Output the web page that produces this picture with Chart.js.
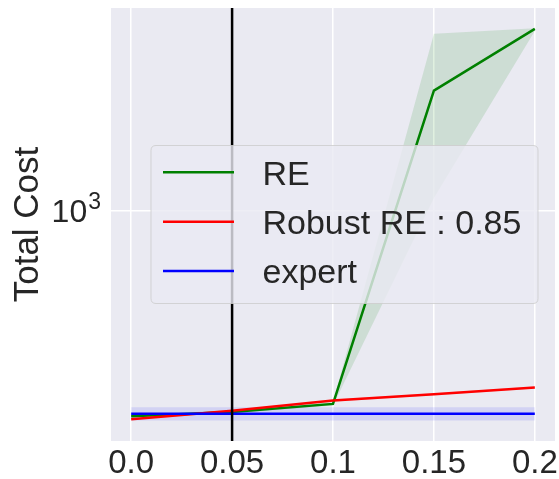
<!DOCTYPE html>
<html><head><meta charset="utf-8">
<script src="https://cdn.jsdelivr.net/npm/chart.js@4/dist/chart.umd.min.js"></script>
<style>html,body{margin:0;padding:0;background:#fff;}#wrap{width:559px;height:479px;position:relative;}</style>
</head><body><div id="wrap"><canvas id="c" width="559" height="479"></canvas></div>
<script>
const xs = [0, 0.05, 0.1, 0.15, 0.2];
const xTickLabels = ['0.0', '0.05', '0.1', '0.15', '0.2'];
const reMean = [228, 235, 249, 2371, 3698];
const reLow = [226, 233, 246, 1096, 3644];
const reHigh = [230, 238, 252, 3573, 3713];
const robustMean = [223, 237, 255, 267, 280];
const robustLow = [222, 236, 253, 265, 278];
const robustHigh = [224, 238, 257, 269, 282];
const expertMean = [232, 232, 232, 232, 232];
const expertLow = [221, 221, 221, 221, 221];
const expertHigh = [243, 243, 243, 243, 243];
const yTickValues = [1000];
const yTickBase = ['10'];
const yTickExp = ['3'];
const seriesNames = ['RE', 'Robust RE : 0.85', 'expert'];
const seriesColors = ['#008000', '#ff0000', '#0000ff'];
const bandColors = ['rgba(0,128,0,0.12)', 'rgba(255,0,0,0.12)', 'rgba(0,0,255,0.10)'];
const vlineX = 0.05;
const yMin = 190.7, yMax = 4298;
const xMin = -0.01, xMax = 0.21;

const FONT = "'Liberation Sans', Arial, sans-serif";
const pts = arr => xs.map((x, i) => ({x: x, y: arr[i]}));

function lineDs(label, arr, color, order) {
  return {label, data: pts(arr), borderColor: color, borderWidth: 2.5, pointRadius: 0, fill: false, order, tension: 0};
}
function bandPair(arrHigh, arrLow, color, order) {
  return [
    {label: '_hi', data: pts(arrHigh), borderWidth: 0, borderColor: 'rgba(0,0,0,0)', backgroundColor: color, pointRadius: 0, fill: '+1', order},
    {label: '_lo', data: pts(arrLow), borderWidth: 0, borderColor: 'rgba(0,0,0,0)', pointRadius: 0, fill: false, order}
  ];
}

const datasets = [
  {label: '_vline', data: [{x: vlineX, y: yMin}, {x: vlineX, y: yMax}], borderColor: '#000', borderWidth: 2.5, pointRadius: 0, fill: false, order: 0},
  ...bandPair(reHigh, reLow, bandColors[0], 9),
  ...bandPair(robustHigh, robustLow, bandColors[1], 8),
  ...bandPair(expertHigh, expertLow, bandColors[2], 7),
  lineDs(seriesNames[2], expertMean, seriesColors[2], 1),
  lineDs(seriesNames[1], robustMean, seriesColors[1], 2),
  lineDs(seriesNames[0], reMean, seriesColors[0], 3)
];

const bgPlugin = {
  id: 'bg',
  beforeDraw(chart) {
    const a = chart.chartArea, ctx = chart.ctx;
    ctx.save(); ctx.fillStyle = '#EAEAF2';
    ctx.fillRect(a.left, a.top, a.right - a.left, a.bottom - a.top);
    ctx.restore();
  }
};

const yTickPlugin = {
  id: 'yTickLabels',
  afterDraw(chart) {
    const ctx = chart.ctx, ys = chart.scales.y;
    ctx.save();
    ctx.fillStyle = '#262626';
    ctx.textAlign = 'left';
    ctx.textBaseline = 'alphabetic';
    yTickValues.forEach((v, i) => {
      const py = ys.getPixelForValue(v);
      ctx.font = '32px ' + FONT;
      const wb = ctx.measureText(yTickBase[i]).width;
      ctx.font = '23px ' + FONT;
      const we = ctx.measureText(yTickExp[i]).width;
      const right = chart.chartArea.left - 10;
      const x0 = right - wb - we - 1;
      ctx.font = '32px ' + FONT;
      ctx.fillText(yTickBase[i], x0, py + 11.5);
      ctx.font = '23px ' + FONT;
      ctx.fillText(yTickExp[i], x0 + wb + 1, py - 2);
    });
    ctx.restore();
  }
};

const legendPlugin = {
  id: 'customLegend',
  afterDraw(chart) {
    const ctx = chart.ctx;
    const bx = 151, by = 145.5, bw = 387, bh = 158, r = 5;
    ctx.save();
    ctx.beginPath();
    ctx.moveTo(bx + r, by); ctx.lineTo(bx + bw - r, by); ctx.quadraticCurveTo(bx + bw, by, bx + bw, by + r);
    ctx.lineTo(bx + bw, by + bh - r); ctx.quadraticCurveTo(bx + bw, by + bh, bx + bw - r, by + bh);
    ctx.lineTo(bx + r, by + bh); ctx.quadraticCurveTo(bx, by + bh, bx, by + bh - r);
    ctx.lineTo(bx, by + r); ctx.quadraticCurveTo(bx, by, bx + r, by);
    ctx.closePath();
    ctx.fillStyle = 'rgba(234,234,242,0.8)';
    ctx.fill();
    ctx.strokeStyle = 'rgba(204,204,204,0.8)';
    ctx.lineWidth = 1;
    ctx.stroke();
    ctx.font = '34px ' + FONT;
    ctx.textBaseline = 'alphabetic';
    ctx.textAlign = 'left';
    for (let i = 0; i < seriesNames.length; i++) {
      const yc = 172.3 + i * 49.4;
      ctx.beginPath();
      ctx.strokeStyle = seriesColors[i]; ctx.lineWidth = 2.5;
      ctx.moveTo(163, yc); ctx.lineTo(234, yc); ctx.stroke();
      ctx.fillStyle = '#262626';
      ctx.fillText(seriesNames[i], 262.5, yc + 12.3);
    }
    ctx.restore();
  }
};

new Chart(document.getElementById('c'), {
  type: 'line',
  data: {datasets},
  plugins: [bgPlugin, yTickPlugin, legendPlugin],
  options: {
    responsive: false,
    animation: false,
    layout: {padding: {top: 8, right: 4, left: 0, bottom: 0}},
    plugins: {legend: {display: false}, tooltip: {enabled: false}},
    scales: {
      x: {
        type: 'linear', min: xMin, max: xMax,
        afterBuildTicks: s => { s.ticks = xs.map(v => ({value: v})); },
        afterFit: s => { s.height = 38; s.paddingLeft = 0; s.paddingRight = 0; },
        ticks: {callback: (v, i) => xTickLabels[i], color: '#262626', font: {family: FONT, size: 33}, padding: 3, maxRotation: 0, autoSkip: false},
        grid: {color: '#ffffff', lineWidth: 1.5, drawTicks: false},
        border: {display: false}
      },
      y: {
        type: 'logarithmic', min: yMin, max: yMax,
        afterBuildTicks: s => { s.ticks = yTickValues.map(v => ({value: v})); },
        afterFit: s => { s.width = 111; s.paddingTop = 0; s.paddingBottom = 0; },
        ticks: {callback: () => '', color: '#262626', font: {family: FONT, size: 32}, padding: 10, autoSkip: false},
        grid: {color: '#ffffff', lineWidth: 1.5, drawTicks: false},
        border: {display: false},
        title: {display: true, text: 'Total Cost', color: '#262626', font: {family: FONT, size: 35}, padding: {top: 7, bottom: 0}}
      }
    }
  }
});
</script></body></html>
